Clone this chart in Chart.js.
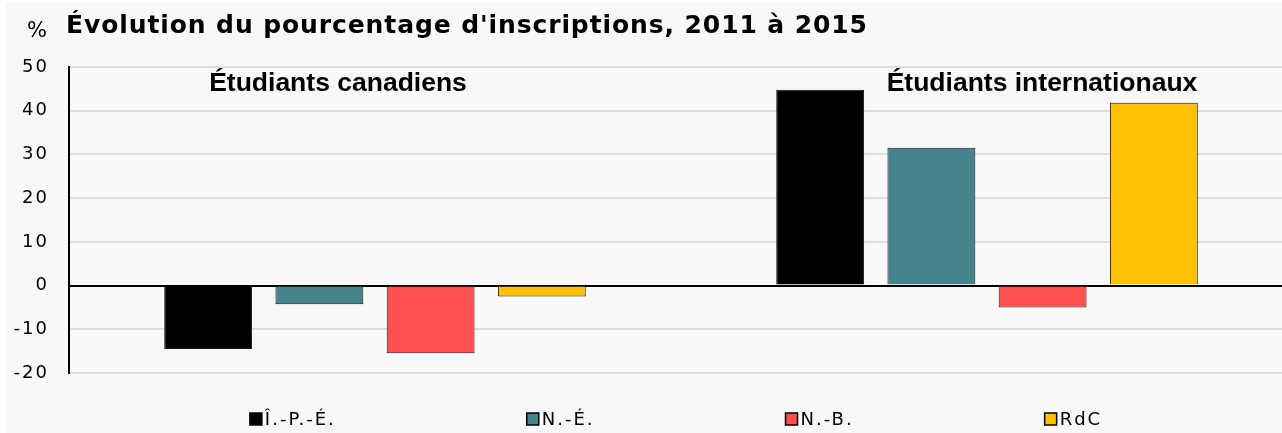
<!DOCTYPE html>
<html>
<head>
<meta charset="utf-8">
<script src="https://cdn.jsdelivr.net/npm/chart.js@4"></script>
<style>
  html, body { margin: 0; padding: 0; background: #ffffff; overflow: hidden; }
  #wrap { width: 1294px; height: 433px; }
</style>
</head>
<body>
<div id="wrap"><canvas id="myChart" width="1294" height="433"></canvas></div>
<script>
const ctx = document.getElementById('myChart');

// data
const categories = ['Étudiants canadiens', 'Étudiants internationaux'];
const seriesNames = ['Î.-P.-É.', 'N.-É.', 'N.-B.', 'RdC'];
const ipeValues = [-14.5, 44.8];
const neValues = [-4.3, 31.5];
const nbValues = [-15.5, -5.0];
const rdcValues = [-2.5, 41.8];
const seriesColors = ['#000000', '#46838C', '#FF5050', '#FFC000'];
const yMin = -20, yMax = 50, yStep = 10;

const titleText = "Évolution du pourcentage d'inscriptions, 2011 à 2015";
const unitText = '%';

const allValues = [ipeValues, neValues, nbValues, rdcValues];

const data = {
    labels: categories,
    datasets: seriesNames.map((name, i) => ({
        label: name,
        data: allValues[i],
        backgroundColor: seriesColors[i],
        borderColor: '#1a1a1a',
        borderWidth: 1,
        categoryPercentage: 0.727,
        barPercentage: 0.79
    }))
};

// background, title, "%" and the two text boxes over the groups
const decor = {
    id: 'decor',
    beforeDraw(chart) {
        const c = chart.ctx;
        c.save();
        c.fillStyle = '#F8F8F8';
        c.fillRect(6, 3, chart.width, chart.height);
        c.restore();
        c.letterSpacing = '2px';   // wider Verdana-like ticks
    },
    afterDraw(chart) {
        const c = chart.ctx;
        const x = chart.scales.x;
        c.save();
        c.fillStyle = '#000';
        c.textBaseline = 'alphabetic';

        c.letterSpacing = '0px';
        c.font = '21px "DejaVu Sans"';
        c.textAlign = 'center';
        c.fillText(unitText, 37, 37);

        c.letterSpacing = '0.9px';
        c.font = 'bold 25px "DejaVu Sans"';
        c.textAlign = 'left';
        c.fillText(titleText, 66, 33);

        c.letterSpacing = '0px';
        c.font = 'bold 26.5px "Liberation Sans"';
        c.textAlign = 'center';
        c.fillText(categories[0], x.getPixelForValue(0) - 37, 91);
        c.fillText(categories[1], x.getPixelForValue(1) + 55, 91);

        // legend, Excel style: equal gaps between entries
        c.font = '18px "DejaVu Sans"';
        c.letterSpacing = '2px';
        c.textAlign = 'left';
        c.textBaseline = 'middle';
        const box = 12, textGap = 3, itemGap = 191;
        const widths = chart.data.datasets.map(d => box + textGap + c.measureText(d.label).width);
        const total = widths.reduce((a, b) => a + b, 0) + itemGap * (widths.length - 1);
        let lx = 676 - total / 2;
        const ly = 419;
        chart.data.datasets.forEach((d, i) => {
            c.fillStyle = d.backgroundColor;
            c.fillRect(lx, ly - box / 2, box, box);
            c.strokeStyle = '#000';
            c.lineWidth = 1.5;
            c.strokeRect(lx, ly - box / 2, box, box);
            c.fillStyle = '#000';
            c.fillText(d.label, lx + box + textGap, ly + 1);
            lx += widths[i] + itemGap;
        });
        c.restore();
        c.letterSpacing = '0px';
    }
};

const visibleChart = new Chart(ctx, {
    type: 'bar',
    data: data,
    plugins: [decor],
    options: {
        responsive: false,
        animation: false,
        layout: {
            padding: { top: 67, bottom: 60, left: 0, right: 1 }
        },
        plugins: {
            legend: { display: false },
            title: { display: false },
            tooltip: { enabled: false }
        },
        scales: {
            x: {
                display: false
            },
            y: {
                min: yMin,
                max: yMax,
                afterFit(scale) { scale.width = 69; },
                ticks: {
                    stepSize: yStep,
                    padding: 20,
                    color: '#000',
                    font: { family: 'DejaVu Sans', size: 18 }
                },
                grid: {
                    drawTicks: false,
                    color: c => c.tick && c.tick.value === 0 ? '#000' : '#DCDCDC',
                    lineWidth: 2
                },
                border: { display: true, color: '#000', width: 2 }
            }
        }
    }
});
</script>
</body>
</html>
